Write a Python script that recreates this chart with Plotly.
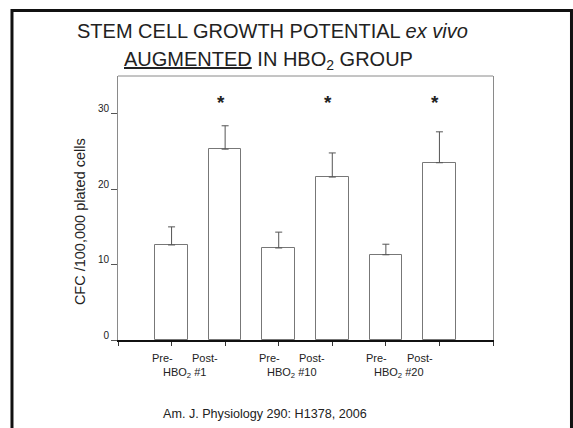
import plotly.graph_objects as go

# Colony-forming cells per 100,000 plated cells, before and after HBO2 sessions
groups = ["HBO<sub>2</sub> #1", "HBO<sub>2</sub> #10", "HBO<sub>2</sub> #20"]
phase_labels = ["Pre-", "Post-"]
pre_values = [12.6, 12.2, 11.3]
post_values = [25.3, 21.6, 23.5]
pre_errors = [2.4, 2.1, 1.4]
post_errors = [3.1, 3.2, 4.1]
significant = [True, True, True]
y_ticks = [0, 10, 20, 30]

FONT = "Liberation Sans, Arial, sans-serif"

# bar slots 1..6 on a 0..7 axis, pre/post alternating
x_pos, values, errors = [], [], []
for i in range(len(groups)):
    x_pos += [2 * i + 1, 2 * i + 2]
    values += [pre_values[i], post_values[i]]
    errors += [pre_errors[i], post_errors[i]]

fig = go.Figure()
fig.add_trace(go.Bar(
    x=x_pos, y=values, width=0.61,
    marker=dict(color="white", line=dict(color="#777777", width=1)),
    error_y=dict(type="data", symmetric=False, array=errors,
                 arrayminus=[0] * len(errors),
                 color="#555555", thickness=1, width=3.5),
    showlegend=False, hoverinfo="skip",
))


def note(text, x, y, size, xref="paper", yref="paper", **kw):
    return dict(x=x, y=y, xref=xref, yref=yref, text=text, showarrow=False,
                xanchor="center", yanchor="middle",
                font=dict(size=size, color="#222"), **kw)


annotations = []
for i, g in enumerate(groups):
    xp, xq = 2 * i + 1, 2 * i + 2
    annotations.append(note(phase_labels[0], xp - 0.17, -0.067, 11, xref="x"))
    annotations.append(note(phase_labels[1], xq - 0.37, -0.067, 11, xref="x"))
    annotations.append(note(g, (xp + xq) / 2 - 0.25, -0.125, 11, xref="x"))
    if significant[i]:
        annotations.append(note("<b>*</b>", xq, 31.55, 19, xref="x", yref="y", xshift=-4))

annotations += [
    note("STEM CELL GROWTH POTENTIAL <i>ex vivo</i>", 0.413, 1.170, 20),
    note("<u>AUGMENTED</u> IN HBO<sub>2</sub> GROUP", 0.400, 1.060, 20),
    note("CFC /100,000 plated cells", -0.101, 0.447, 14.5, textangle=-90),
    note("Am. J. Physiology 290: H1378, 2006", 0.392, -0.280, 12.6),
]

shapes = [
    # slide frame
    dict(type="rect", xref="paper", yref="paper",
         x0=-0.2827, x1=1.2093, y0=-0.40, y1=1.248,
         line=dict(color="#111", width=3), fillcolor="rgba(0,0,0,0)"),
    # top edge of the plot box
    dict(type="line", xref="paper", yref="paper", x0=0, x1=1, y0=1, y1=1,
         line=dict(color="#8a8a8a", width=1)),
]

fig.update_layout(
    width=573, height=428,
    margin=dict(l=118, r=80, t=76, b=88),
    paper_bgcolor="white", plot_bgcolor="white",
    font=dict(family=FONT, color="#222"),
    xaxis=dict(range=[0, 7], tickvals=list(range(8)), showticklabels=False,
               ticks="outside", ticklen=4, tickcolor="#333", tickwidth=1,
               showline=True, linecolor="#111", linewidth=1.5,
               showgrid=False, zeroline=False, fixedrange=True),
    yaxis=dict(range=[0, 35], tickvals=y_ticks, ticks="outside", ticklen=6,
               tickcolor="#555", tickwidth=1, tickfont=dict(size=10, color="#222"),
               ticklabelshift=-5,
               showline=True, linecolor="#8a8a8a", linewidth=1, mirror=True,
               showgrid=False, zeroline=False, fixedrange=True),
    annotations=annotations,
    shapes=shapes,
    bargap=0,
)

fig.write_html("out.html")
